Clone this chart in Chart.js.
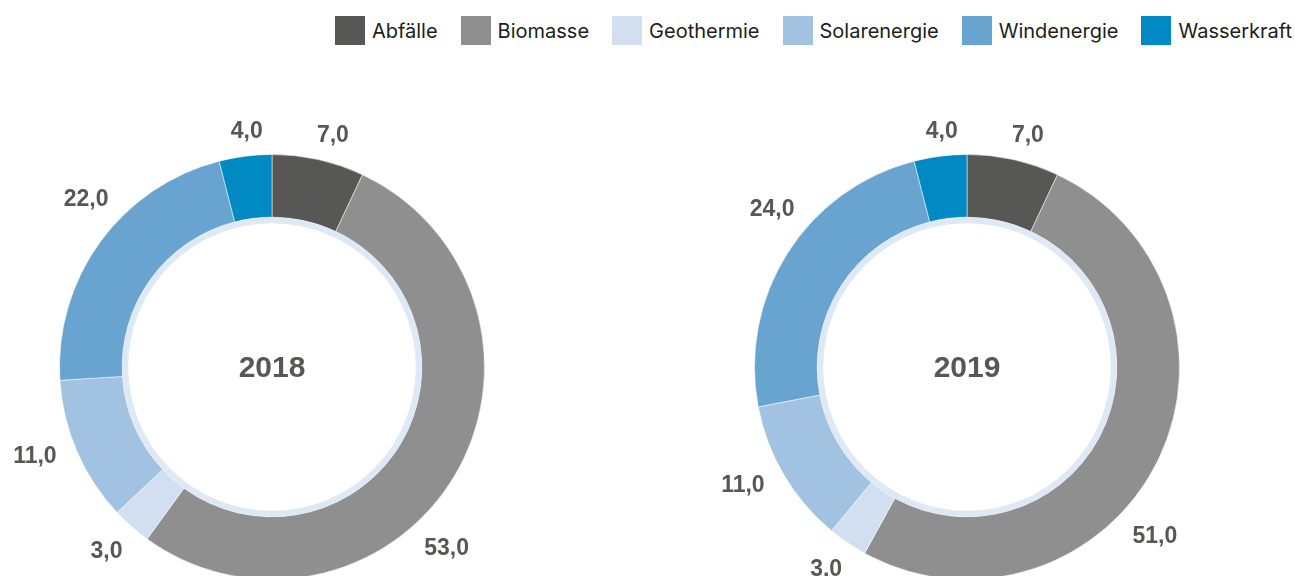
<!DOCTYPE html>
<html>
<head>
<meta charset="utf-8">
<script src="https://cdn.jsdelivr.net/npm/chart.js@4.4.1/dist/chart.umd.min.js"></script>
<style>
  html, body { margin: 0; padding: 0; background: #fff; overflow: hidden; width: 1295px; height: 576px; }
  #wrap { position: relative; width: 1295px; height: 576px; overflow: hidden; }
  canvas { position: absolute; top: 0; }
  #legend { position: absolute; top: 16px; right: 3px; display: flex; align-items: center; font-family: Inter, "Liberation Sans", Arial, sans-serif; font-size: 20px; color: #1d1d1b; }
  .item { display: flex; align-items: center; margin-left: 23px; }
  .item:first-child { margin-left: 0; }
  .box { width: 30px; height: 29px; margin-right: 7px; }
</style>
</head>
<body>
<div id="wrap">
  <div id="legend"></div>
  <canvas id="c2018" width="640" height="600" style="left:0px;width:640px;height:600px"></canvas>
  <canvas id="c2019" width="655" height="600" style="left:640px;width:655px;height:600px"></canvas>
</div>
<script>
// ---- data ----
const categories = ['Abfälle', 'Biomasse', 'Geothermie', 'Solarenergie', 'Windenergie', 'Wasserkraft'];
const years = ['2018', '2019'];
const values2018 = [7, 53, 3, 11, 22, 4];
const values2019 = [7, 51, 3, 11, 24, 4];
const colors = ['#575756', '#8f8f8f', '#d2dff0', '#a1c2e1', '#68a4cf', '#0089c2'];

// ---- HTML legend ----
const legendEl = document.getElementById('legend');
categories.forEach((c, i) => {
  const it = document.createElement('div');
  it.className = 'item';
  const b = document.createElement('div');
  b.className = 'box';
  b.style.background = colors[i];
  const t = document.createElement('span');
  t.textContent = c;
  it.appendChild(b); it.appendChild(t);
  legendEl.appendChild(it);
});

// ---- plugins ----
const ringPlugin = {
  id: 'innerRing',
  afterDatasetsDraw(chart) {
    const arc = chart.getDatasetMeta(0).data[0];
    if (!arc) return;
    const ctx = chart.ctx;
    ctx.save();
    ctx.beginPath();
    ctx.arc(arc.x, arc.y, arc.innerRadius - 3, 0, Math.PI * 2);
    ctx.lineWidth = 6;
    ctx.strokeStyle = '#dfe9f6';
    ctx.stroke();
    ctx.restore();
  }
};

const labelPlugin = {
  id: 'outerLabels',
  afterDatasetsDraw(chart, args, opts) {
    const meta = chart.getDatasetMeta(0);
    const ds = chart.data.datasets[0];
    const ctx = chart.ctx;
    ctx.save();
    ctx.font = 'bold 23px "Liberation Sans", Arial, sans-serif';
    ctx.fillStyle = '#575756';
    ctx.textAlign = 'center';
    ctx.textBaseline = 'middle';
    meta.data.forEach((arc, i) => {
      const txt = ds.data[i].toFixed(1).replace('.', ',');
      const w = ctx.measureText(txt).width;
      const h = 16;
      const a = arc.startAngle + opts.fraction * (arc.endAngle - arc.startAngle);
      const c = Math.cos(a), s = Math.sin(a);
      const r = arc.outerRadius + opts.gap + Math.abs(c) * w / 2 + Math.abs(s) * h / 2;
      ctx.fillText(txt, arc.x + r * c, arc.y + r * s + 2);
    });
    // centre title
    const a0 = meta.data[0];
    ctx.font = 'bold 30px "Liberation Sans", Arial, sans-serif';
    ctx.fillText(opts.title, a0.x, a0.y + 2);
    ctx.restore();
  }
};

function makeChart(id, title, values, padding) {
  return new Chart(document.getElementById(id), {
    type: 'doughnut',
    data: {
      labels: categories,
      datasets: [{
        data: values,
        backgroundColor: colors,
        borderColor: 'rgba(255,255,255,0.5)',
        borderWidth: 1,
        hoverOffset: 0
      }]
    },
    options: {
      responsive: false,
      maintainAspectRatio: false,
      animation: false,
      cutout: '70.5%',
      layout: { padding: padding },
      plugins: {
        legend: { display: false },
        tooltip: { enabled: false },
        outerLabels: { fraction: 0.58, gap: 17, title: title }
      },
      events: []
    },
    plugins: [ringPlugin, labelPlugin]
  });
}

makeChart('c2018', years[0], values2018, { left: 59, right: 155, top: 154, bottom: 20 });
makeChart('c2019', years[1], values2019, { left: 114, right: 115, top: 154, bottom: 20 });
</script>
</body>
</html>
